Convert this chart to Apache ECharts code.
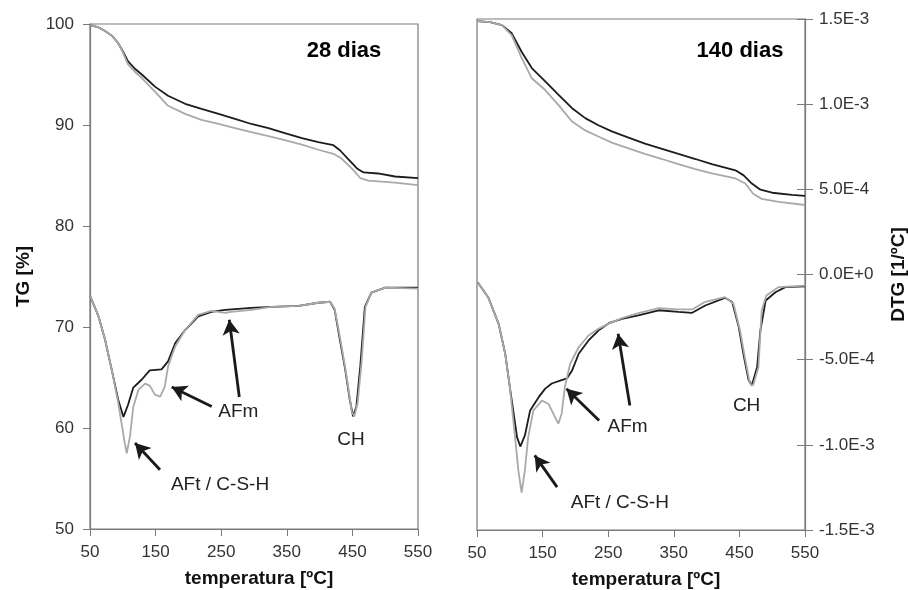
<!DOCTYPE html>
<html>
<head>
<meta charset="utf-8">
<script src="https://cdn.jsdelivr.net/npm/echarts@6/dist/echarts.min.js"></script>
<style>html,body{margin:0;padding:0;background:#fff}#c{width:908px;height:590px}</style>
</head>
<body>
<div id="c"></div>
<script>
// ---------- tick labels ----------
var tempTicks = [50, 150, 250, 350, 450, 550];
var tgTicks = [50, 60, 70, 80, 90, 100];
var dtgTicks = [-1.5e-3, -1.0e-3, -5.0e-4, 0, 5.0e-4, 1.0e-3, 1.5e-3];
var panelTitles = ['28 dias', '140 dias'];

// ---------- 28 dias: TG [%] ----------
var tLeftTGBlack = [50, 62, 73, 84, 93, 100, 108, 118, 129, 149, 169, 195, 220, 246, 271, 296, 322, 347, 373, 398, 421, 431, 444, 457, 467, 489, 515, 550];
var tgLeftBlack  = [99.9, 99.7, 99.3, 98.8, 98.1, 97.3, 96.3, 95.6, 95.0, 93.8, 92.9, 92.1, 91.6, 91.1, 90.6, 90.1, 89.7, 89.2, 88.7, 88.3, 88.0, 87.5, 86.6, 85.7, 85.3, 85.2, 84.9, 84.75];
var tLeftTGGray  = [50, 62, 73, 84, 93, 100, 108, 118, 129, 149, 169, 195, 220, 246, 271, 296, 322, 347, 373, 398, 421, 433, 449, 462, 474, 515, 550];
var tgLeftGray   = [99.9, 99.7, 99.3, 98.8, 98.1, 97.2, 96.0, 95.3, 94.65, 93.3, 91.9, 91.1, 90.5, 90.1, 89.7, 89.3, 88.9, 88.5, 88.05, 87.55, 87.15, 86.7, 85.7, 84.75, 84.5, 84.3, 84.05];

// ---------- 28 dias: DTG [1/ºC], in units of 1E-4 ----------
var tLeftDTGBlack = [50, 63, 73, 83, 93, 101, 108, 116, 129, 141, 159, 169, 180, 195, 215, 235, 256, 296, 327, 368, 398, 416, 423, 431, 439, 446, 451, 456, 462, 469, 479, 500, 550];
var dtgLeftBlack  = [-1.14, -2.37, -3.76, -5.52, -7.32, -8.34, -7.62, -6.6, -6.12, -5.58, -5.52, -5.04, -3.96, -3.18, -2.37, -2.1, -1.98, -1.86, -1.8, -1.74, -1.56, -1.5, -1.98, -3.78, -5.52, -7.32, -8.31, -7.74, -5.34, -1.8, -0.96, -0.66, -0.66];
var tLeftDTGGray  = [50, 63, 73, 83, 93, 98, 103, 106, 111, 116, 124, 134, 141, 149, 157, 164, 169, 180, 195, 215, 235, 256, 265, 296, 327, 368, 398, 416, 423, 431, 439, 446, 449, 453, 458, 464, 470, 479, 500, 550];
var dtgLeftGray   = [-1.14, -2.37, -3.76, -5.52, -7.5, -8.7, -9.9, -10.5, -9.48, -7.74, -6.72, -6.36, -6.48, -7.02, -7.14, -6.54, -5.34, -4.14, -3.18, -2.28, -2.04, -2.16, -2.1, -1.98, -1.8, -1.74, -1.56, -1.5, -1.92, -3.6, -5.4, -7.2, -8.04, -8.31, -7.5, -5.1, -1.8, -0.96, -0.66, -0.72];

// ---------- 140 dias: TG [%] ----------
var tRightTGBlack = [50, 70, 88, 103, 118, 133.5, 154, 174, 194.5, 215, 235, 255.5, 281, 306, 332, 357, 383, 408, 444, 456.5, 469, 482, 500, 530, 550];
var tgRightBlack  = [99.8, 99.7, 99.4, 98.6, 96.8, 95.2, 93.9, 92.6, 91.3, 90.3, 89.6, 89.0, 88.4, 87.8, 87.3, 86.8, 86.3, 85.8, 85.2, 84.7, 83.9, 83.3, 83.0, 82.8, 82.7];
var tRightTGGray  = [50, 70, 88, 103, 118, 133.5, 154, 174, 194.5, 215, 235, 255.5, 281, 306, 332, 357, 383, 408, 444, 459, 471, 484, 510, 550];
var tgRightGray   = [99.8, 99.7, 99.4, 98.4, 96.2, 94.2, 93.05, 91.6, 90.0, 89.1, 88.5, 87.9, 87.35, 86.8, 86.3, 85.8, 85.3, 84.9, 84.4, 83.9, 82.9, 82.4, 82.1, 81.8];

// ---------- 140 dias: DTG [1/ºC], in units of 1E-4 ----------
var tRightDTGBlack = [51, 67, 83, 93, 100, 106, 111, 116, 123, 131, 144, 154, 164, 179, 187, 195, 205, 220, 235, 251, 271, 296, 327, 357, 378, 398, 428, 439, 449, 457, 464, 469, 477, 482, 490, 505, 520, 550];
var dtgRightBlack  = [-0.45, -1.33, -2.9, -4.65, -6.6, -8.2, -9.55, -10.1, -9.45, -7.98, -7.2, -6.7, -6.4, -6.2, -6.1, -5.63, -4.65, -3.87, -3.29, -2.86, -2.6, -2.4, -2.1, -2.2, -2.25, -1.82, -1.37, -1.62, -3.09, -4.85, -6.2, -6.5, -5.44, -3.29, -1.53, -1.04, -0.74, -0.7];
var tRightDTGGray  = [51, 67, 83, 93, 100, 108, 113, 118, 123, 128, 136, 149, 159, 169, 174, 179, 184, 192, 205, 220, 235, 250, 271, 296, 327, 357, 378, 398, 428, 441, 451, 459, 466, 471, 479, 484, 491, 510, 550];
var dtgRightGray   = [-0.45, -1.33, -2.9, -4.65, -6.6, -9.55, -11.5, -12.8, -11.5, -9.55, -7.98, -7.4, -7.6, -8.37, -8.76, -8.17, -6.6, -5.24, -4.27, -3.58, -3.19, -2.9, -2.56, -2.27, -1.98, -2.05, -2.05, -1.6, -1.33, -1.72, -3.29, -5.0, -6.4, -6.5, -5.44, -2.1, -1.23, -0.74, -0.65];

// ---------- annotations (data coordinates) ----------
// 28 dias, in [ºC, TG %]
var leftArrows = [
  [[156.7, 55.87], [118.6, 58.51]],
  [[235.5, 62.14], [174.5, 64.06]],
  [[277.6, 63.07], [262.3, 70.72]]
];
var leftLabels = [
  ['AFt / C-S-H', 248.2, 54.4],
  ['AFm', 276, 61.64],
  ['CH', 447.9, 58.84]
];
// 140 dias, in [ºC, DTG x1E-4]
var rightArrows = [
  [[172.1, -12.48], [138.0, -10.62]],
  [[236.1, -8.57], [186.4, -6.71]],
  [[283.0, -7.69], [265.1, -3.48]]
];
var rightLabels = [
  ['AFt / C-S-H', 267.7, -13.42],
  ['AFm', 279.5, -8.92],
  ['CH', 461, -7.69]
];

// ---------- build ----------
var E4 = 1e-4;
function pairs(xs, ys, k) { return xs.map(function (x, i) { return [x, ys[i] * (k || 1)]; }); }
function fmtE(v) { if (Math.abs(v) < 1e-12) return '0.0E+0'; return v.toExponential(1).toUpperCase(); }

var FONT = "'Liberation Sans', Arial, sans-serif";
var BLACK = '#1c1c1c', GRAY = '#a9a9a9', AXIS = '#7a7a7a', TXT = '#333';

function arrowMark(arrows, k) {
  return {
    silent: true, animation: false,
    symbol: ['none', 'arrow'], symbolSize: [13, 15],
    lineStyle: { color: '#1a1a1a', width: 2.8, type: 'solid' },
    label: { show: false },
    data: arrows.map(function (a) {
      return [{ coord: [a[0][0], a[0][1] * k] }, { coord: [a[1][0], a[1][1] * k] }];
    })
  };
}
function labelMark(labels, k) {
  return {
    silent: true, animation: false,
    symbol: 'rect', symbolSize: 1, itemStyle: { color: 'rgba(0,0,0,0)' },
    label: { show: true, position: 'inside', color: '#222', fontSize: 19, fontFamily: FONT,
             formatter: function (p) { return p.name; } },
    data: labels.map(function (l) { return { name: l[0], coord: [l[1], l[2] * k] }; })
  };
}
function lineSeries(xi, yi, data, color, extra) {
  var s = { type: 'line', xAxisIndex: xi, yAxisIndex: yi, data: data, showSymbol: false, symbol: 'none',
            lineStyle: { color: color, width: 1.8 }, itemStyle: { color: color }, silent: true, animation: false, z: 3 };
  if (extra) for (var k in extra) s[k] = extra[k];
  return s;
}
function xAxisCfg(gi) {
  return {
    type: 'value', gridIndex: gi, min: 50, max: 550,
    axisLine: { show: true, onZero: false, lineStyle: { color: AXIS, width: 1.2 } },
    axisTick: { show: true, inside: false, length: 7, customValues: tempTicks, lineStyle: { color: AXIS } },
    axisLabel: { show: true, customValues: tempTicks, margin: 15, fontSize: 17, color: TXT, fontFamily: FONT },
    splitLine: { show: false },
    name: 'temperatura [ºC]', nameLocation: 'middle', nameGap: 40,
    nameTextStyle: { fontSize: 19, fontWeight: 'bold', color: '#111', fontFamily: FONT, padding: [0, 0, 0, 10] }
  };
}

var option = {
  animation: false,
  backgroundColor: '#fff',
  grid: [
    { left: 90, top: 24, width: 328, height: 505, show: true, borderColor: AXIS, borderWidth: 1.2, containLabel: false, outerBoundsMode: 'none' },
    { left: 477, top: 19, width: 328, height: 511, show: true, borderColor: AXIS, borderWidth: 1.2, containLabel: false, outerBoundsMode: 'none' }
  ],
  xAxis: [xAxisCfg(0), xAxisCfg(1)],
  yAxis: [
    { type: 'value', gridIndex: 0, position: 'left', min: 50, max: 100,
      axisLine: { show: true, onZero: false, lineStyle: { color: AXIS, width: 1.2 } },
      axisTick: { show: true, inside: false, length: 7, customValues: tgTicks, lineStyle: { color: AXIS } },
      axisLabel: { show: true, customValues: tgTicks, margin: 16, fontSize: 17, color: TXT, fontFamily: FONT },
      splitLine: { show: false },
      name: 'TG [%]', nameLocation: 'middle', nameRotate: 90, nameGap: 57,
      nameTextStyle: { fontSize: 19, fontWeight: 'bold', color: '#111', fontFamily: FONT } },
    { type: 'value', gridIndex: 0, position: 'right', min: -1.5e-3, max: 1.5e-3, show: false,
      axisLine: { show: false, onZero: false }, splitLine: { show: false } },
    { type: 'value', gridIndex: 1, position: 'left', min: 50, max: 100, show: false,
      axisLine: { show: false, onZero: false }, splitLine: { show: false } },
    { type: 'value', gridIndex: 1, position: 'right', min: -1.5e-3, max: 1.5e-3,
      axisLine: { show: true, onZero: false, lineStyle: { color: AXIS, width: 1.2 } },
      axisTick: { show: true, inside: false, length: 8, customValues: dtgTicks, lineStyle: { color: AXIS } },
      axisLabel: { show: true, customValues: dtgTicks, margin: 14, fontSize: 17, color: TXT, fontFamily: FONT, formatter: fmtE },
      splitLine: { show: false },
      name: 'DTG [1/ºC]', nameLocation: 'middle', nameRotate: 90, nameGap: 84,
      nameTextStyle: { fontSize: 19, fontWeight: 'bold', color: '#111', fontFamily: FONT } },
    { type: 'value', gridIndex: 1, position: 'right', min: -1.5e-3, max: 1.5e-3,
      axisLine: { show: false, onZero: false },
      axisTick: { show: true, inside: true, length: 8, customValues: dtgTicks, lineStyle: { color: AXIS } },
      axisLabel: { show: false }, splitLine: { show: false } }
  ],
  graphic: [
    { type: 'text', x: 344, y: 51, style: { text: panelTitles[0], textAlign: 'center', textVerticalAlign: 'middle',
      font: "bold 22px 'Liberation Sans', Arial, sans-serif", fill: '#000' } },
    { type: 'text', x: 740, y: 51, style: { text: panelTitles[1], textAlign: 'center', textVerticalAlign: 'middle',
      font: "bold 22px 'Liberation Sans', Arial, sans-serif", fill: '#000' } }
  ],
  series: [
    // 28 dias
    lineSeries(0, 0, pairs(tLeftTGBlack, tgLeftBlack), BLACK, { markLine: arrowMark(leftArrows, 1), markPoint: labelMark(leftLabels, 1) }),
    lineSeries(0, 0, pairs(tLeftTGGray, tgLeftGray), GRAY),
    lineSeries(0, 1, pairs(tLeftDTGBlack, dtgLeftBlack, E4), BLACK),
    lineSeries(0, 1, pairs(tLeftDTGGray, dtgLeftGray, E4), GRAY, { z: 4 }),
    // 140 dias
    lineSeries(1, 2, pairs(tRightTGBlack, tgRightBlack), BLACK),
    lineSeries(1, 2, pairs(tRightTGGray, tgRightGray), GRAY),
    lineSeries(1, 3, pairs(tRightDTGBlack, dtgRightBlack, E4), BLACK, { markLine: arrowMark(rightArrows, E4), markPoint: labelMark(rightLabels, E4) }),
    lineSeries(1, 3, pairs(tRightDTGGray, dtgRightGray, E4), GRAY, { z: 4 })
  ]
};

var chart = echarts.init(document.getElementById('c'), null, { renderer: 'canvas' });
chart.setOption(option);
</script>
</body>
</html>
